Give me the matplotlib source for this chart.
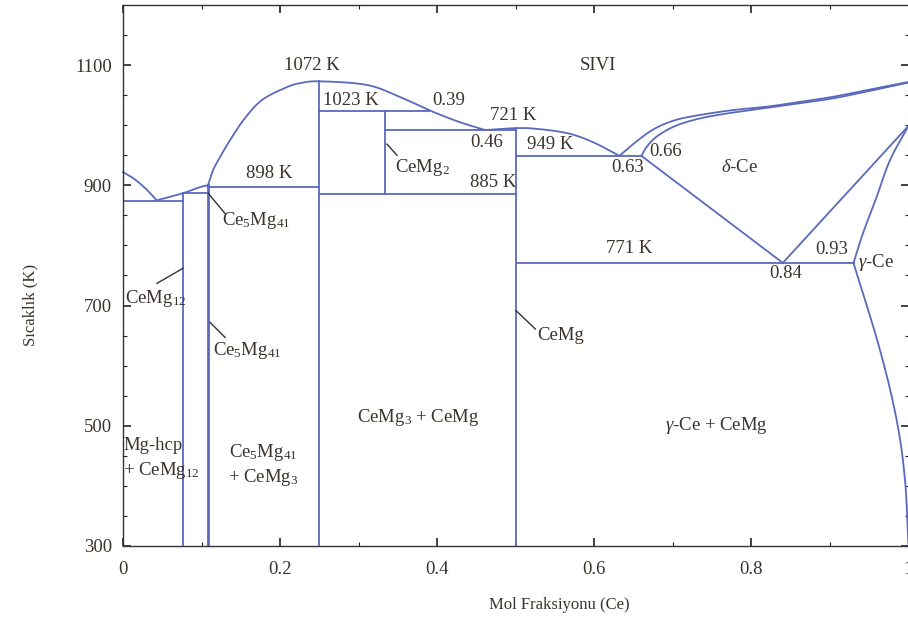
import matplotlib
matplotlib.use("Agg")
import matplotlib.pyplot as plt
import numpy as np

plt.rcParams['font.family'] = ['Liberation Serif', 'DejaVu Serif']
plt.rcParams['mathtext.fontset'] = 'custom'
plt.rcParams['mathtext.rm'] = 'Liberation Serif'
plt.rcParams['mathtext.it'] = 'Liberation Serif:italic'

# ---------------- data (mole fraction Ce, temperature K) ----------------
mg_liq_x = [0.0, 0.015, 0.03, 0.043]
mg_liq_T = [922, 910, 893, 875]

low_liq_x = [0.043, 0.0764, 0.098, 0.108]
low_liq_T = [875, 887, 897, 900]

big_liq_x = [0.108, 0.1146, 0.1235, 0.1362, 0.1553, 0.177, 0.2062, 0.2253,
             0.2508, 0.3106, 0.3526, 0.3934, 0.429, 0.4609]
big_liq_T = [899, 925, 947, 975, 1012, 1042, 1062, 1070,
             1073, 1067, 1047, 1023, 1005, 992]

cemg_liq_x = [0.4609, 0.48, 0.4965, 0.522, 0.565, 0.598, 0.632]
cemg_liq_T = [992, 993.5, 995, 994.5, 987, 972, 949]

ce_liq_x = [0.632, 0.6556, 0.6774, 0.703, 0.7333, 0.776, 0.8185, 0.862,
            0.904, 0.9467, 1.0]
ce_liq_T = [949, 975, 994.7, 1008.5, 1016.8, 1025.1, 1030.6, 1038.9,
            1047.3, 1058.4, 1072]

ce_sol_x = [0.66, 0.6667, 0.679, 0.7006, 0.726, 0.7558, 0.798, 0.862,
            0.904, 0.9467, 1.0]
ce_sol_T = [949, 964, 980.7, 997.3, 1008.5, 1016.8, 1025, 1036.4,
            1044.7, 1056, 1071]

delta_lo_x = [0.66, 0.84]
delta_lo_T = [949, 771]

delta_gam_x = [0.84, 1.0]
delta_gam_T = [771, 999]

gam_up_x = [0.93, 0.942, 0.9595, 0.9765, 1.0]
gam_up_T = [771, 820, 881, 942, 999]

gam_lo_x = [0.93, 0.9637, 0.985, 0.9955, 1.0]
gam_lo_T = [771, 626, 509, 410, 300]

# compounds (vertical lines): x, T_bottom, T_top
comp_x = [1/13, 5/46, 0.25, 1/3, 0.5]
comp_T0 = [300, 300, 300, 886, 300]
comp_T1 = [887, 900, 1073, 1023, 995]
comp_lw = [1.3, 2.0, 1.3, 1.3, 1.3]

# invariant lines: T, x_start, x_end
inv_T = [874, 887, 898, 1023, 992, 886, 949, 771]
inv_x0 = [0.0, 1/13, 5/46, 0.25, 1/3, 0.25, 0.5, 0.5]
inv_x1 = [1/13, 5/46, 0.25, 0.39, 0.5, 0.5, 0.66, 0.93]

# labels: text, x, T, ha
labels = [
    ("1072 K", 0.2406, 1100, 'center'),
    ("1023 K", 0.2546, 1041, 'left'),
    ("0.39", 0.3934, 1041, 'left'),
    ("721 K", 0.467, 1016, 'left'),
    ("0.46", 0.4418, 971, 'left'),
    ("949 K", 0.514, 968, 'left'),
    ("SIVI", 0.6047, 1100, 'center'),
    ("0.63", 0.643, 930, 'center'),
    ("0.66", 0.691, 957, 'center'),
    ("$\\delta$-Ce", 0.7855, 930, 'center'),
    ("898 K", 0.186, 920, 'center'),
    ("771 K", 0.644, 795.5, 'center'),
    ("0.84", 0.844, 754, 'center'),
    ("0.93", 0.9026, 794, 'center'),
    ("$\\gamma$-Ce", 0.9357, 772, 'left'),
    ("Mg-hcp", 0.0, 468, 'left'),
    ("+ CeMg$_{12}$", 0.0, 426, 'left'),
    ("Ce$_5$Mg$_{41}$", 0.178, 456, 'center'),
    ("+ CeMg$_3$", 0.178, 414.5, 'center'),
    ("CeMg$_3$ + CeMg", 0.3756, 513, 'center'),
    ("$\\gamma$-Ce + CeMg", 0.755, 501, 'center'),
    ("CeMg$_{12}$", 0.0025, 712, 'left'),
    ("Ce$_5$Mg$_{41}$", 0.126, 842, 'left'),
    ("Ce$_5$Mg$_{41}$", 0.1146, 626, 'left'),
    ("CeMg$_2$", 0.346, 929, 'left'),
    ("885 K", 0.4418, 905, 'left'),
    ("CeMg", 0.527, 651, 'left'),
]

# leader lines: x0, T0, x1, T1
leaders = [
    (0.0433, 737, 0.0764, 762),
    (0.1086, 886.5, 0.130, 853),
    (0.1108, 672, 0.130, 647),
    (0.336, 968.6, 0.3488, 950),
    (0.5, 692, 0.525, 661),
]


def smooth(xs, ts, n=24):
    """Catmull-Rom curve through the given points (in pixel-like scale)."""
    sx, st = 786.0, 0.601
    P = np.column_stack([np.asarray(xs, float) * sx, np.asarray(ts, float) * st])
    if len(P) < 3:
        return P[:, 0] / sx, P[:, 1] / st
    ext = np.vstack([2 * P[0] - P[1], P, 2 * P[-1] - P[-2]])
    out = []
    t = np.linspace(0, 1, n, endpoint=False)[:, None]
    for i in range(1, len(ext) - 2):
        p0, p1, p2, p3 = ext[i - 1:i + 3]
        seg = 0.5 * ((2 * p1) + (-p0 + p2) * t + (2 * p0 - 5 * p1 + 4 * p2 - p3) * t ** 2
                     + (-p0 + 3 * p1 - 3 * p2 + p3) * t ** 3)
        out.append(seg)
    out.append(P[-1:])
    out = np.vstack(out)
    return out[:, 0] / sx, out[:, 1] / st


# ---------------- figure ----------------
W, H = 908, 625
fig = plt.figure(figsize=(W / 100, H / 100), dpi=100)
ax = fig.add_axes([123 / W, 79 / H, 785.5 / W, 541 / H])

lc = '#5a69bd'
tc = '#3a332e'
lw = 1.3

for xs, ts in [(mg_liq_x, mg_liq_T), (low_liq_x, low_liq_T), (big_liq_x, big_liq_T),
               (cemg_liq_x, cemg_liq_T), (ce_liq_x, ce_liq_T), (ce_sol_x, ce_sol_T),
               (delta_lo_x, delta_lo_T), (delta_gam_x, delta_gam_T),
               (gam_up_x, gam_up_T), (gam_lo_x, gam_lo_T)]:
    cx, ct = smooth(xs, ts)
    ax.plot(cx, ct, color=lc, lw=lw, clip_on=False)

for x, t0, t1, w in zip(comp_x, comp_T0, comp_T1, comp_lw):
    ax.plot([x, x], [t0, t1], color=lc, lw=w)
for t, x0, x1 in zip(inv_T, inv_x0, inv_x1):
    ax.plot([x0, x1], [t, t], color=lc, lw=lw)

for x0, t0, x1, t1 in leaders:
    ax.plot([x0, x1], [t0, t1], color='#333333', lw=1.0)

for txt, x, t, ha in labels:
    ax.text(x, t, txt, ha=ha, va='center', fontsize=13.5, color=tc)

ax.set_xlim(0, 1)
ax.set_ylim(300, 1200)
ax.set_xticks([0, 0.2, 0.4, 0.6, 0.8, 1.0])
ax.set_xticklabels(['0', '0.2', '0.4', '0.6', '0.8', '1'])
ax.set_xticks(np.arange(0.1, 1.0, 0.2), minor=True)
ax.set_yticks([300, 500, 700, 900, 1100])
ax.set_yticks([350, 400, 450, 550, 600, 650, 750, 800, 850, 950, 1000, 1050, 1150],
              minor=True)
ax.tick_params(which='both', direction='in', top=True, right=True,
               labelsize=13.5, labelcolor=tc, color='#222222')
ax.tick_params(which='major', length=6, width=1.2)
ax.tick_params(which='minor', length=3, width=0.8)
ax.tick_params(axis='x', pad=11)
ax.tick_params(axis='y', pad=8)
for s in ax.spines.values():
    s.set_color('#333333')
    s.set_linewidth(1.0)

fig.text(559 / W, 1 - 605 / H, "Mol Fraksiyonu (Ce)", ha='center', va='center',
         fontsize=12, color=tc)
fig.text(30 / W, 1 - 305 / H, "Sıcaklık (K)", ha='center', va='center',
         rotation=90, fontsize=12, color=tc)

fig.savefig("out.png", dpi=100)
